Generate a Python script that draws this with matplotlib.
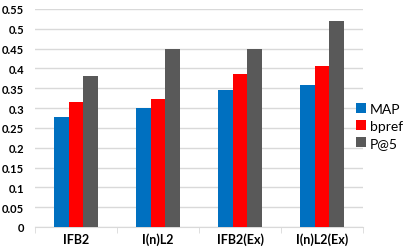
import numpy as np
import matplotlib.pyplot as plt
from matplotlib.ticker import FixedLocator

# valeurs
categories = ['IFB2', 'I(n)L2', 'IFB2(Ex)', 'I(n)L2(Ex)']
map_vals = [0.278, 0.299, 0.345, 0.357]
bpref_vals = [0.316, 0.324, 0.386, 0.406]
p5_vals = [0.381, 0.449, 0.449, 0.520]
series_names = ['MAP', 'bpref', 'P@5']
colors = ['#0070C0', '#FF0000', '#595959']
y_ticks = [0, 0.05, 0.1, 0.15, 0.2, 0.25, 0.3, 0.35, 0.4, 0.45, 0.5, 0.55]

plt.rcParams['font.family'] = ['Lato', 'DejaVu Sans']

fig = plt.figure(figsize=(4.09, 2.51), dpi=100)
ax = fig.add_axes([35 / 409, 23 / 251, 328 / 409, 218 / 251])

x = np.arange(len(categories))
w = 0.18
for i, (vals, name, c) in enumerate(zip([map_vals, bpref_vals, p5_vals], series_names, colors)):
    ax.bar(x + (i - 1) * w, vals, w, color=c, label=name, zorder=3)

ax.set_xlim(-0.5, len(categories) - 0.5)
ax.set_ylim(0, 0.55)
ax.set_yticks(y_ticks)
ax.set_yticklabels([f'{t:g}' for t in y_ticks], fontsize=8, fontweight='bold')
ax.set_xticks(x)
ax.set_xticklabels(categories, fontsize=9, fontweight='bold')
ax.xaxis.set_minor_locator(FixedLocator(np.arange(-0.5, len(categories), 1.0)))
ax.tick_params(axis='x', which='major', length=0, pad=4)
ax.tick_params(axis='x', which='minor', length=4, color='#D9D9D9')
ax.tick_params(axis='y', length=0, pad=8)

ax.grid(axis='y', color='#D9D9D9', linewidth=1, zorder=0)
for s in ['top', 'right', 'left']:
    ax.spines[s].set_visible(False)
ax.spines['bottom'].set_color('#D9D9D9')

ax.legend(loc='center left', bbox_to_anchor=(356 / 409, 124 / 251), bbox_transform=fig.transFigure,
          frameon=False, fontsize=10, handlelength=0.7, handleheight=0.7, handletextpad=0.3,
          labelspacing=0.35, borderpad=0, borderaxespad=0)

fig.savefig('out.png', dpi=100)
